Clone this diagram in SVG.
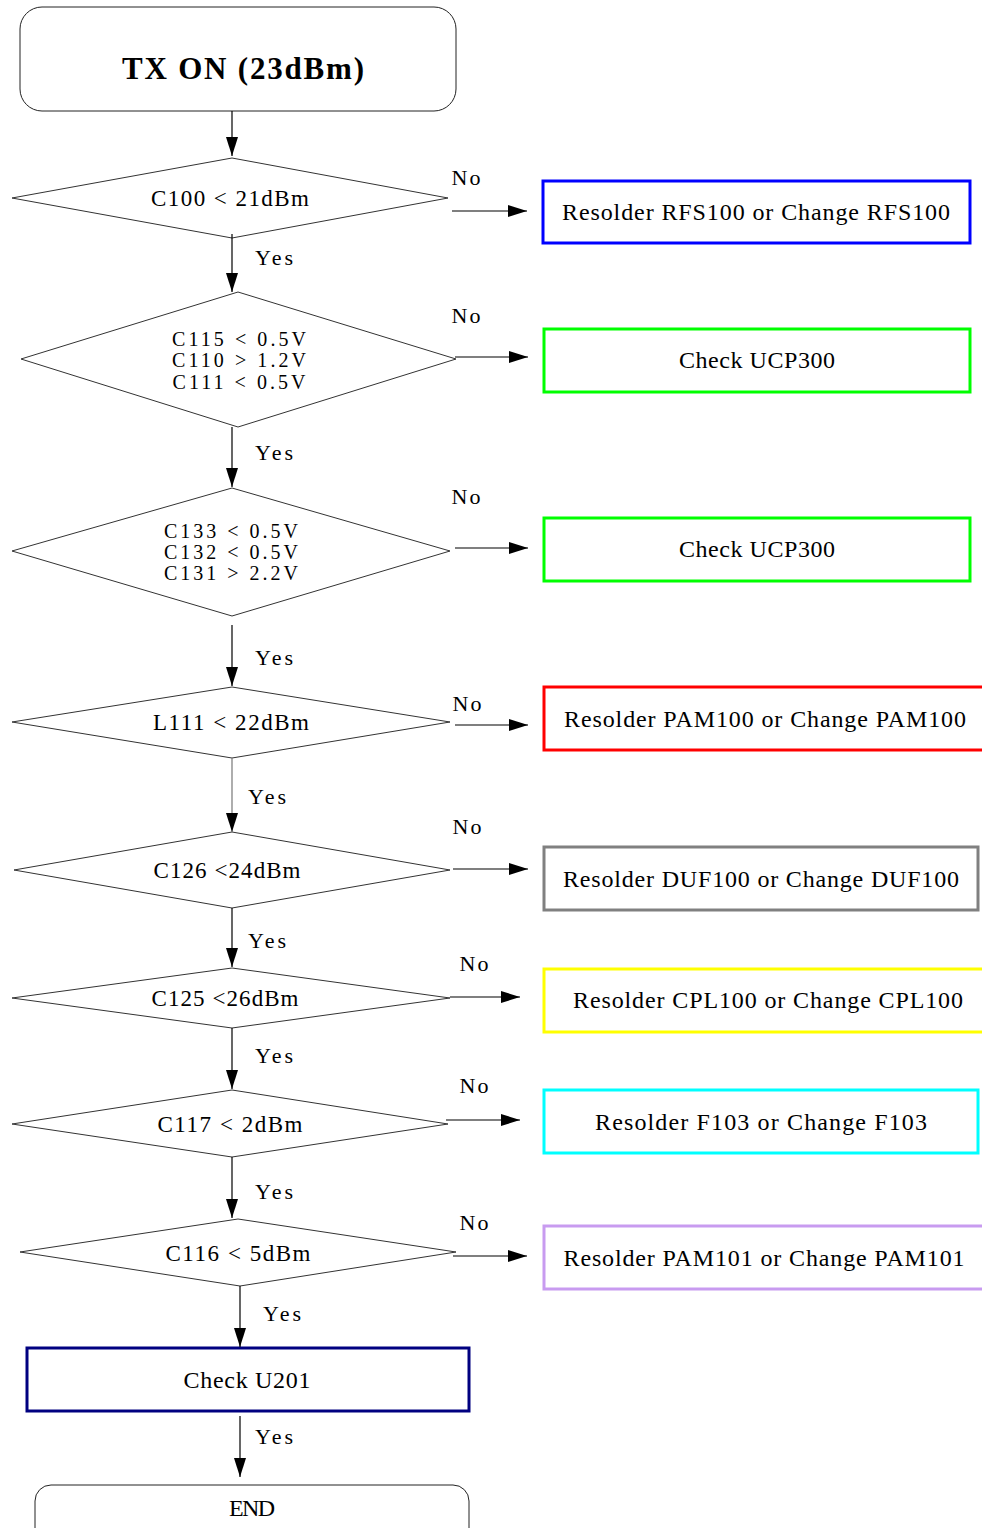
<svg xmlns="http://www.w3.org/2000/svg" width="982" height="1528" viewBox="0 0 982 1528">
<style>
text{font-family:"Liberation Serif","DejaVu Serif",serif;fill:#000;text-anchor:middle}
.t{font-size:23px}
.m{font-size:20px}
.b{font-size:24px}
.lbl{font-size:22px}
.title{font-size:31px;font-weight:bold}
.dia{fill:#fff;stroke:#333;stroke-width:1}
.box{fill:#fff;stroke-width:3}
.term{fill:#fff;stroke:#222;stroke-width:1}
.con line{stroke:#000;stroke-width:1.2;marker-end:url(#ah)}
</style>
<defs>
<marker id="ah" markerUnits="userSpaceOnUse" markerWidth="20" markerHeight="12" refX="19" refY="6" orient="auto">
<path d="M0,0 L19,6 L0,12 z" fill="#000"/>
</marker>
</defs>
<rect width="982" height="1528" fill="#fff"/>

<g id="start">
<rect class="term" x="20" y="7" width="436" height="104" rx="22"/>
<text class="title" x="243" y="79" textLength="242" lengthAdjust="spacing">TX ON (23dBm)</text>
</g>

<g id="d1">
<polygon class="dia" points="232,158 448,198 232,238 12,198"/>
<text class="t" x="230" y="206" textLength="158" lengthAdjust="spacing">C100 &lt; 21dBm</text>
</g>
<g id="r1">
<rect class="box" x="543" y="181" width="427" height="62" stroke="#0000ff"/>
<text class="b" x="756" y="220" textLength="388" lengthAdjust="spacing">Resolder RFS100 or Change RFS100</text>
</g>

<g id="d2">
<polygon class="dia" points="238,292 456,359 238,427 21,359"/>
<text class="m" x="239" y="346" textLength="134" lengthAdjust="spacing">C115 &lt; 0.5V</text>
<text class="m" x="239" y="367" textLength="134" lengthAdjust="spacing">C110 &gt; 1.2V</text>
<text class="m" x="239" y="389" textLength="133" lengthAdjust="spacing">C111 &lt; 0.5V</text>
</g>
<g id="r2">
<rect class="box" x="544" y="329" width="426" height="63" stroke="#00ff00"/>
<text class="b" x="757" y="368" textLength="156" lengthAdjust="spacing">Check UCP300</text>
</g>

<g id="d3">
<polygon class="dia" points="232,488 450,551 232,616 12,551"/>
<text class="m" x="231" y="538" textLength="134" lengthAdjust="spacing">C133 &lt; 0.5V</text>
<text class="m" x="231" y="559" textLength="134" lengthAdjust="spacing">C132 &lt; 0.5V</text>
<text class="m" x="231" y="580" textLength="134" lengthAdjust="spacing">C131 &gt; 2.2V</text>
</g>
<g id="r3">
<rect class="box" x="544" y="518" width="426" height="63" stroke="#00ff00"/>
<text class="b" x="757" y="557" textLength="156" lengthAdjust="spacing">Check UCP300</text>
</g>

<g id="d4">
<polygon class="dia" points="232,687 450,722 232,758 12,722"/>
<text class="t" x="231" y="730" textLength="156" lengthAdjust="spacing">L111 &lt; 22dBm</text>
</g>
<g id="r4">
<rect class="box" x="544" y="687" width="446" height="63" stroke="#ff0000"/>
<text class="b" x="765" y="727" textLength="402" lengthAdjust="spacing">Resolder PAM100 or Change PAM100</text>
</g>

<g id="d5">
<polygon class="dia" points="232,832 450,870 232,908 14,870"/>
<text class="t" x="227" y="878" textLength="147" lengthAdjust="spacing">C126 &lt;24dBm</text>
</g>
<g id="r5">
<rect class="box" x="544" y="847" width="434" height="63" stroke="#808080"/>
<text class="b" x="761" y="887" textLength="396" lengthAdjust="spacing">Resolder DUF100 or Change DUF100</text>
</g>

<g id="d6">
<polygon class="dia" points="232,968 450,998 232,1028 12,998"/>
<text class="t" x="225" y="1006" textLength="147" lengthAdjust="spacing">C125 &lt;26dBm</text>
</g>
<g id="r6">
<rect class="box" x="544" y="969" width="446" height="63" stroke="#ffff00"/>
<text class="b" x="768" y="1008" textLength="390" lengthAdjust="spacing">Resolder CPL100 or Change CPL100</text>
</g>

<g id="d7">
<polygon class="dia" points="232,1090 448,1124 232,1157 12,1124"/>
<text class="t" x="230" y="1132" textLength="145" lengthAdjust="spacing">C117 &lt; 2dBm</text>
</g>
<g id="r7">
<rect class="box" x="544" y="1090" width="434" height="63" stroke="#00ffff"/>
<text class="b" x="761" y="1130" textLength="332" lengthAdjust="spacing">Resolder F103 or Change F103</text>
</g>

<g id="d8">
<polygon class="dia" points="238,1219 456,1252 240,1286 20,1252"/>
<text class="t" x="238" y="1261" textLength="145" lengthAdjust="spacing">C116 &lt; 5dBm</text>
</g>
<g id="r8">
<rect class="box" x="544" y="1226" width="446" height="63" stroke="#c89bf0"/>
<text class="b" x="764" y="1266" textLength="401" lengthAdjust="spacing">Resolder PAM101 or Change PAM101</text>
</g>

<g id="check">
<rect class="box" x="27" y="1348" width="442" height="63" stroke="#000080"/>
<text class="b" x="247" y="1388" textLength="127" lengthAdjust="spacing">Check U201</text>
</g>

<g id="end">
<rect class="term" x="35" y="1485" width="434" height="70" rx="16"/>
<text class="b" x="252" y="1516" textLength="46" lengthAdjust="spacing">END</text>
</g>

<g id="connectors" class="con">
<line x1="232" y1="111" x2="232" y2="156"/>
<line x1="232" y1="234" x2="232" y2="292"/>
<line x1="232" y1="427" x2="232" y2="487"/>
<line x1="232" y1="625" x2="232" y2="686"/>
<line x1="232" y1="758" x2="232" y2="832" style="stroke:#777"/>
<line x1="232" y1="908" x2="232" y2="967"/>
<line x1="232" y1="1028" x2="232" y2="1089"/>
<line x1="232" y1="1157" x2="232" y2="1218"/>
<line x1="240" y1="1286" x2="240" y2="1347"/>
<line x1="240" y1="1416" x2="240" y2="1477"/>
<line x1="452" y1="211" x2="527" y2="211"/>
<line x1="455" y1="357" x2="528" y2="357"/>
<line x1="455" y1="548" x2="528" y2="548"/>
<line x1="455" y1="725" x2="528" y2="725"/>
<line x1="453" y1="869" x2="528" y2="869"/>
<line x1="450" y1="997" x2="520" y2="997"/>
<line x1="446" y1="1120" x2="520" y2="1120"/>
<line x1="453" y1="1256" x2="527" y2="1256"/>
</g>

<g id="labels">
<text class="lbl" x="274" y="265" textLength="38" lengthAdjust="spacing">Yes</text>
<text class="lbl" x="274" y="460" textLength="38" lengthAdjust="spacing">Yes</text>
<text class="lbl" x="274" y="665" textLength="38" lengthAdjust="spacing">Yes</text>
<text class="lbl" x="267" y="804" textLength="38" lengthAdjust="spacing">Yes</text>
<text class="lbl" x="267" y="948" textLength="38" lengthAdjust="spacing">Yes</text>
<text class="lbl" x="274" y="1063" textLength="38" lengthAdjust="spacing">Yes</text>
<text class="lbl" x="274" y="1199" textLength="38" lengthAdjust="spacing">Yes</text>
<text class="lbl" x="282" y="1321" textLength="38" lengthAdjust="spacing">Yes</text>
<text class="lbl" x="274" y="1444" textLength="38" lengthAdjust="spacing">Yes</text>
<text class="lbl" x="466" y="185" textLength="29" lengthAdjust="spacing">No</text>
<text class="lbl" x="466" y="323" textLength="29" lengthAdjust="spacing">No</text>
<text class="lbl" x="466" y="504" textLength="29" lengthAdjust="spacing">No</text>
<text class="lbl" x="467" y="711" textLength="29" lengthAdjust="spacing">No</text>
<text class="lbl" x="467" y="834" textLength="29" lengthAdjust="spacing">No</text>
<text class="lbl" x="474" y="971" textLength="29" lengthAdjust="spacing">No</text>
<text class="lbl" x="474" y="1093" textLength="29" lengthAdjust="spacing">No</text>
<text class="lbl" x="474" y="1230" textLength="29" lengthAdjust="spacing">No</text>
</g>
</svg>
